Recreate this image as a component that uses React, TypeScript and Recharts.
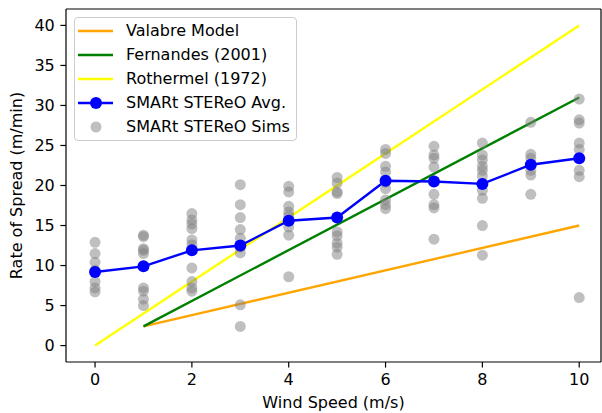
import React from "react";
import {
  ComposedChart, Line, Scatter, XAxis, YAxis, Legend, ReferenceLine,
} from "recharts";

const windSpeeds = [0, 1, 2, 3, 4, 5, 6, 7, 8, 9, 10];
const avgSpread = [9.2, 9.9, 11.9, 12.5, 15.6, 16.0, 20.6, 20.5, 20.2, 22.6, 23.4];
const simSpread = [
  [12.9, 11.5, 10.4, 9.4, 8.0, 7.2, 6.7],
  [13.8, 13.6, 12.1, 11.9, 11.5, 7.2, 6.8, 5.8, 5.0],
  [16.5, 15.7, 15.2, 14.6, 13.2, 12.6, 9.7, 8.0, 7.2, 6.8],
  [20.1, 17.6, 16.0, 14.5, 13.4, 12.3, 11.6, 5.1, 2.4],
  [19.9, 19.2, 17.4, 16.7, 16.2, 14.8, 13.8, 8.6],
  [21.0, 20.3, 19.2, 19.0, 14.2, 13.7, 12.8, 12.3, 11.4],
  [24.5, 24.0, 22.4, 21.7, 20.4, 19.6, 18.2, 17.6, 17.1],
  [24.9, 23.8, 23.4, 22.3, 20.6, 18.9, 17.6, 17.2, 13.3],
  [25.3, 23.8, 23.2, 22.4, 21.9, 21.2, 19.4, 18.4, 15.0, 11.3],
  [27.9, 23.9, 23.4, 22.6, 21.9, 21.3, 18.9],
  [30.8, 28.2, 27.8, 25.3, 24.5, 21.9, 21.1, 6.0],
];

// model lines, end points only
const modelWind = [1, 10];
const valabreSpread = [2.4, 15.0];
const fernandesSpread = [2.4, 31.0];
const rothermelWind = [0, 10];
const rothermelSpread = [0, 40];

const xTicks = [0, 2, 4, 6, 8, 10];
const yTicks = [0, 5, 10, 15, 20, 25, 30, 35, 40];
const X_DOMAIN = [-0.6, 10.45];
const Y_DOMAIN = [-2.05, 42.05];

const C = {
  orange: "#ffa500",
  green: "#008000",
  yellow: "#ffff00",
  blue: "#0000ff",
  gray: "#808080",
};

const FONT = "DejaVu Sans, sans-serif";
const FS = 16;

const toPts = (xs: number[], ys: number[]) => xs.map((x, i) => ({ x, y: ys[i] }));

const valabreData = toPts(modelWind, valabreSpread);
const fernandesData = toPts(modelWind, fernandesSpread);
const rothermelData = toPts(rothermelWind, rothermelSpread);
const avgData = toPts(windSpeeds, avgSpread);
const simData = windSpeeds.flatMap((x, i) => simSpread[i].map((y) => ({ x, y })));

const legendItems = [
  { name: "Valabre Model", color: C.orange, kind: "line" },
  { name: "Fernandes (2001)", color: C.green, kind: "line" },
  { name: "Rothermel (1972)", color: C.yellow, kind: "line" },
  { name: "SMARt STEReO Avg.", color: C.blue, kind: "marker" },
  { name: "SMARt STEReO Sims", color: C.gray, kind: "dot" },
];

function LegendBox() {
  return (
    <div style={{
      background: "rgba(255,255,255,0.8)", border: "1px solid #cccccc", borderRadius: 4,
      padding: "1px 6px 1px 3px", fontFamily: FONT, fontSize: FS, color: "#000",
    }}>
      {legendItems.map((it) => (
        <div key={it.name} style={{ display: "flex", alignItems: "center", height: 24 }}>
          <svg width={36} height={24} style={{ marginRight: 12, flexShrink: 0 }}>
            {it.kind !== "dot" && <line x1={0} y1={12} x2={35} y2={12} stroke={it.color} strokeWidth={2.4} />}
            {it.kind === "marker" && <circle cx={18} cy={12} r={6} fill={it.color} />}
            {it.kind === "dot" && <circle cx={18} cy={12} r={5.5} fill={it.color} fillOpacity={0.5} />}
          </svg>
          <span style={{ whiteSpace: "nowrap", lineHeight: "24px" }}>{it.name}</span>
        </div>
      ))}
    </div>
  );
}

const YTitle = (props: any) => {
  const vb = props.viewBox || { x: 0, y: 9, height: 353 };
  const cx = vb.x + 16;
  const cy = vb.y + vb.height / 2;
  return (
    <text x={cx} y={cy} transform={`rotate(-90 ${cx} ${cy})`} textAnchor="middle"
      dominantBaseline="central" fontFamily={FONT} fontSize={FS} fill="#000">
      Rate of Spread (m/min)
    </text>
  );
};

const tickStyle = { fill: "#000", fontSize: FS, fontFamily: FONT };

export default function App() {
  return (
    <div style={{ position: "absolute", left: 0, top: 0, width: 602, height: 413, background: "#fff" }}>
      <ComposedChart width={602} height={413} margin={{ top: 9, right: 1, bottom: 0, left: 0 }}>
        <XAxis dataKey="x" type="number" domain={X_DOMAIN} ticks={xTicks} height={51}
          tick={tickStyle} tickSize={5.6} tickMargin={6} stroke="#000" strokeWidth={1.2} allowDataOverflow
          label={{ value: "Wind Speed (m/s)", position: "insideBottom", offset: 5, fill: "#000", fontSize: FS, fontFamily: FONT }} />
        <YAxis type="number" domain={Y_DOMAIN} ticks={yTicks} width={66}
          tick={tickStyle} tickSize={5.6} tickMargin={5.6} stroke="#000" strokeWidth={1.2} allowDataOverflow
          label={<YTitle />} />
        <ReferenceLine y={Y_DOMAIN[1]} stroke="#000" strokeWidth={1.2} />
        <ReferenceLine x={X_DOMAIN[1]} stroke="#000" strokeWidth={1.2} />
        <Legend layout="vertical" align="center" verticalAlign="middle" content={<LegendBox />}
          wrapperStyle={{ left: 74, top: 17, width: "auto", height: "auto" }} />
        <Scatter data={simData} dataKey="y" isAnimationActive={false} legendType="none"
          shape={(p: any) => <circle cx={p.cx} cy={p.cy} r={5.5} fill={C.gray} fillOpacity={0.5} />} />
        <Line data={valabreData} dataKey="y" stroke={C.orange} strokeWidth={2.4} dot={false}
          isAnimationActive={false} type="linear" />
        <Line data={fernandesData} dataKey="y" stroke={C.green} strokeWidth={2.4} dot={false}
          isAnimationActive={false} type="linear" />
        <Line data={rothermelData} dataKey="y" stroke={C.yellow} strokeWidth={2.4} dot={false}
          isAnimationActive={false} type="linear" />
        <Line data={avgData} dataKey="y" stroke={C.blue} strokeWidth={2.4}
          dot={{ r: 6, fill: C.blue, stroke: C.blue, strokeWidth: 0 }} activeDot={false}
          isAnimationActive={false} type="linear" />
      </ComposedChart>
    </div>
  );
}
